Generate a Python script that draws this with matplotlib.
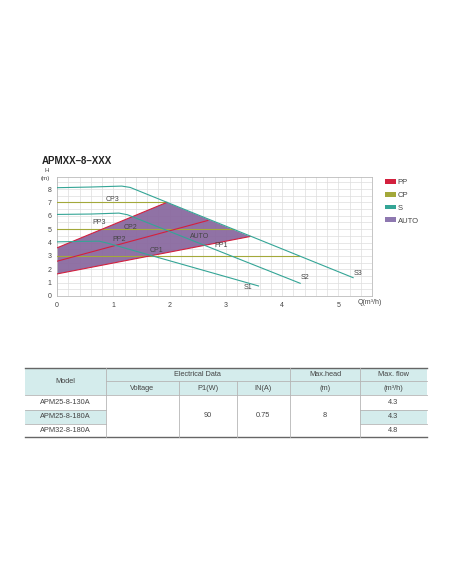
import numpy as np
import matplotlib
matplotlib.use("Agg")
from matplotlib import pyplot as plt
from matplotlib.patches import Rectangle, Polygon, Patch
from matplotlib.ticker import MultipleLocator

plt.rcParams['font.family'] = ['Liberation Sans', 'DejaVu Sans']

# pump curves S1..S3 (Q in m3/h, H in m)
s1_q = [0, 0.4, 0.75, 0.9, 3.58]
s1_h = [4.05, 4.08, 4.1, 3.95, 0.75]
s2_q = [0, 0.6, 1.1, 1.25, 4.32]
s2_h = [6.1, 6.13, 6.2, 6.08, 0.95]
s3_q = [0, 0.6, 1.15, 1.3, 5.26]
s3_h = [8.1, 8.15, 8.22, 8.12, 1.37]

# constant pressure lines
cp_names = ["CP1", "CP2", "CP3"]
cp_head = [3, 5, 7]
cp_qmax = [4.3, 3.15, 1.95]

# proportional pressure lines
pp_names = ["PP1", "PP2", "PP3"]
pp_q = [[0, 3.43], [0, 2.68], [0, 1.95]]
pp_h = [[1.65, 4.45], [2.6, 5.65], [3.6, 7.0]]

# AUTO area
auto_q = [0, 0, 1.95, 3.43]
auto_h = [1.65, 3.6, 7.0, 4.45]

# labels inside the chart
lbl_text = ["CP3", "PP3", "CP2", "PP2", "AUTO", "CP1", "PP1", "S1", "S2", "S3"]
lbl_q = [0.99, 0.75, 1.3, 1.1, 2.54, 1.77, 2.92, 3.39, 4.4, 5.34]
lbl_h = [7.2, 5.5, 5.1, 4.2, 4.45, 3.4, 3.75, 0.6, 1.4, 1.68]

# table
models = ["APM25-8-130A", "APM25-8-180A", "APM32-8-180A"]
max_flow = ["4.3", "4.3", "4.8"]
power = "90"
current = "0.75"
max_head = "8"

c_pp = "#d3203e"
c_cp = "#a3a83a"
c_s = "#34a596"
c_auto = "#8a6aa0"
c_txt = "#444444"

W, H = 452, 584
fig = plt.figure(figsize=(W / 100, H / 100), dpi=100)

ax = fig.add_axes([57 / W, 1 - 296 / H, (371.7 - 57) / W, (296 - 177) / H])
ax.set_xlim(0, 5.59)
ax.set_ylim(0, 8.9)
ax.xaxis.set_major_locator(MultipleLocator(1))
ax.xaxis.set_minor_locator(MultipleLocator(0.2))
ax.yaxis.set_major_locator(MultipleLocator(1))
ax.yaxis.set_minor_locator(MultipleLocator(0.5))
ax.grid(True, which="both", color="#dddddd", lw=0.5)
ax.set_axisbelow(True)
ax.tick_params(which="both", length=0, labelsize=5, colors=c_txt, pad=4)
for sp in ax.spines.values():
    sp.set_color("#bbbbbb")
    sp.set_linewidth(0.6)

ax.add_patch(Polygon(np.column_stack([auto_q, auto_h]), closed=True,
                     facecolor=c_auto, edgecolor="none", alpha=0.95, zorder=2))

for h, qm in zip(cp_head, cp_qmax):
    ax.plot([0, qm], [h, h], color=c_cp, lw=0.8, zorder=3)
for q, h in zip(pp_q, pp_h):
    ax.plot(q, h, color=c_pp, lw=0.8, zorder=4)
for q, h in [(s1_q, s1_h), (s2_q, s2_h), (s3_q, s3_h)]:
    ax.plot(q, h, color=c_s, lw=0.8, zorder=5)

for t, q, h in zip(lbl_text, lbl_q, lbl_h):
    ax.text(q, h, t, fontsize=5, color=c_txt, ha="center", va="center", zorder=6)

ax.text(5.55, -0.25, "Q(m³/h)", fontsize=5, color=c_txt, ha="center", va="top",
        clip_on=False)
fig.text(47 / W, 1 - 170.5 / H, "H", fontsize=4.5, color=c_txt, ha="center", va="center")
fig.text(45 / W, 1 - 178.5 / H, "(m)", fontsize=4.5, color=c_txt, ha="center", va="center")

fig.text(42 / W, 1 - 161 / H, "APMXX–8–XXX", fontsize=7, fontweight="bold",
         color="#222222", va="center")

leg = [Patch(facecolor=c_pp, label="PP"), Patch(facecolor=c_cp, label="CP"),
       Patch(facecolor=c_s, label="S"), Patch(facecolor="#8e78b0", label="AUTO")]
fig.legend(handles=leg, loc="upper left", bbox_to_anchor=(378 / W, 1 - 172 / H),
           frameon=False, fontsize=5.5, handlelength=1.4, handleheight=0.6,
           labelspacing=0.75, handletextpad=0.3, labelcolor=c_txt)

# table drawn in pixel coordinates
tx = fig.add_axes([0, 0, 1, 1])
tx.set_xlim(0, W)
tx.set_ylim(H, 0)
tx.axis("off")

teal = "#d4ecec"
xs = [25, 105.7, 179.3, 236.7, 290, 360, 426.7]
y_top, y_mid, y_hdr = 368, 381.3, 394.7
row_y = [394.7, 410, 424, 436.7]

tx.add_patch(Rectangle((xs[0], y_top), xs[-1] - xs[0], y_hdr - y_top,
                       facecolor=teal, edgecolor="none"))
tx.add_patch(Rectangle((xs[0], row_y[1]), xs[1] - xs[0], row_y[2] - row_y[1],
                       facecolor=teal, edgecolor="none"))
tx.add_patch(Rectangle((xs[5], row_y[1]), xs[6] - xs[5], row_y[2] - row_y[1],
                       facecolor=teal, edgecolor="none"))

lc = "#b5b5b5"
tx.plot([xs[0], xs[-1]], [y_top, y_top], color="#666666", lw=1.0)
tx.plot([xs[0], xs[-1]], [row_y[-1], row_y[-1]], color="#666666", lw=1.0)
tx.plot([xs[0], xs[-1]], [y_hdr, y_hdr], color=lc, lw=0.6)
tx.plot([xs[1], xs[-1]], [y_mid, y_mid], color=lc, lw=0.6)
for x in [xs[1], xs[4], xs[5]]:
    tx.plot([x, x], [y_top, row_y[-1]], color=lc, lw=0.6)
for x in [xs[2], xs[3]]:
    tx.plot([x, x], [y_mid, row_y[-1]], color=lc, lw=0.6)
for y in row_y[1:3]:
    tx.plot([xs[0], xs[1]], [y, y], color=lc, lw=0.6)
    tx.plot([xs[5], xs[6]], [y, y], color=lc, lw=0.6)

fs = 5.3
def cell(x0, x1, y, s):
    tx.text((x0 + x1) / 2, y, s, fontsize=fs, color=c_txt, ha="center", va="center")

cell(xs[0], xs[1], (y_top + y_hdr) / 2, "Model")
cell(xs[1], xs[4], (y_top + y_mid) / 2, "Electrical Data")
cell(xs[1], xs[2], (y_mid + y_hdr) / 2, "Voltage")
cell(xs[2], xs[3], (y_mid + y_hdr) / 2, "P1(W)")
cell(xs[3], xs[4], (y_mid + y_hdr) / 2, "IN(A)")
cell(xs[4], xs[5], (y_top + y_mid) / 2, "Max.head")
cell(xs[4], xs[5], (y_mid + y_hdr) / 2, "(m)")
cell(xs[5], xs[6], (y_top + y_mid) / 2, "Max. flow")
cell(xs[5], xs[6], (y_mid + y_hdr) / 2, "(m³/h)")
for i, (m, f) in enumerate(zip(models, max_flow)):
    yc = (row_y[i] + row_y[i + 1]) / 2
    cell(xs[0], xs[1], yc, m)
    cell(xs[5], xs[6], yc, f)
ymerge = (row_y[0] + row_y[-1]) / 2
cell(xs[2], xs[3], ymerge, power)
cell(xs[3], xs[4], ymerge, current)
cell(xs[4], xs[5], ymerge, max_head)

fig.savefig("out.png", dpi=100)
